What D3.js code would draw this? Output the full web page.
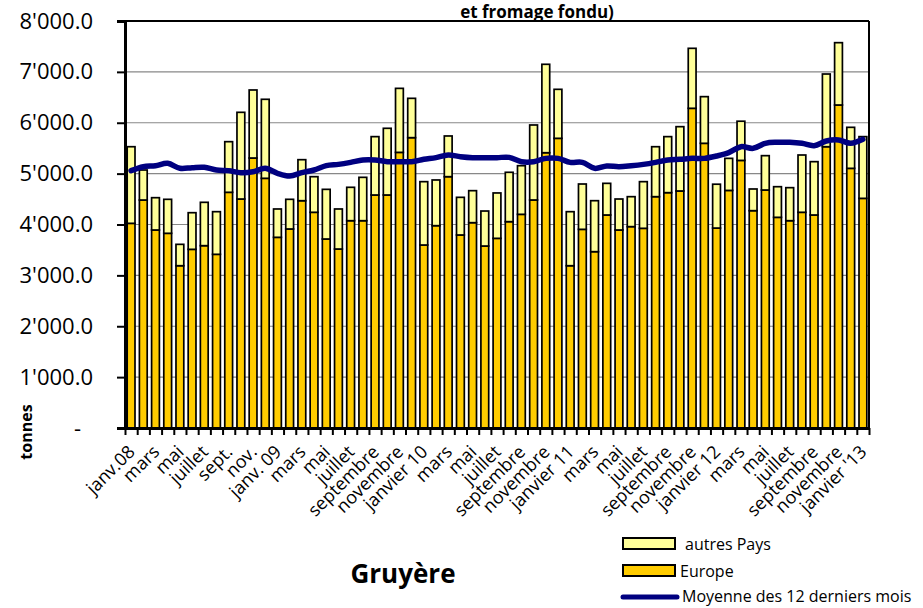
<!DOCTYPE html>
<html>
<head>
<meta charset="utf-8">
<script src="https://cdn.jsdelivr.net/npm/d3@7"></script>
<style>
  body { margin: 0; background: #fff; }
  text { font-family: "Open Sans", "Noto Sans", sans-serif; }
</style>
</head>
<body>
<div id="canvas"></div>
<script>
// mois, janv. 2008 -> janv. 2013
const months = [
  "2008-01","2008-02","2008-03","2008-04","2008-05","2008-06","2008-07","2008-08","2008-09","2008-10","2008-11","2008-12",
  "2009-01","2009-02","2009-03","2009-04","2009-05","2009-06","2009-07","2009-08","2009-09","2009-10","2009-11","2009-12",
  "2010-01","2010-02","2010-03","2010-04","2010-05","2010-06","2010-07","2010-08","2010-09","2010-10","2010-11","2010-12",
  "2011-01","2011-02","2011-03","2011-04","2011-05","2011-06","2011-07","2011-08","2011-09","2011-10","2011-11","2011-12",
  "2012-01","2012-02","2012-03","2012-04","2012-05","2012-06","2012-07","2012-08","2012-09","2012-10","2012-11","2012-12",
  "2013-01"
];

// un libellé tous les deux mois
const tickLabels = [
  "janv.08","mars","mai","juillet","sept.","nov.",
  "janv. 09","mars","mai","juillet","septembre","novembre",
  "janvier 10","mars","mai","juillet","septembre","novembre",
  "janvier 11","mars","mai","juillet","septembre","novembre",
  "janvier 12","mars","mai","juillet","septembre","novembre",
  "janvier '13"
];

const europe = [
  4023,4481,3892,3827,3190,3512,3584,3414,4633,4501,5307,4908,
  3748,3912,4468,4240,3715,3518,4075,4075,4580,4580,5418,5707,
  3597,3977,4940,3794,4036,3577,3728,4056,4200,4482,5411,5694,
  3190,3905,3466,4187,3892,3958,3925,4547,4626,4659,6284,5596,
  3930,4670,5260,4272,4678,4141,4075,4240,4187,5529,6349,5104,
  4514
];

const autresPays = [
  1506,590,635,668,420,720,852,838,995,1704,1337,1553,
  557,583,806,700,976,787,656,852,1147,1311,1258,773,
  1245,898,800,740,629,688,892,970,956,1474,1738,963,
  1062,891,1002,622,609,589,917,982,1101,1264,1179,917,
  862,630,770,426,675,602,649,1126,1048,1429,1225,806,
  1213
];

const moyenne12 = [
  5058,5136,5155,5202,5104,5117,5124,5071,5058,5019,5038,5104,
  5006,4953,5019,5071,5156,5182,5221,5268,5268,5235,5235,5235,
  5281,5314,5366,5333,5314,5314,5314,5320,5235,5235,5300,5300,
  5221,5221,5104,5150,5136,5155,5182,5221,5268,5281,5300,5300,
  5346,5412,5530,5497,5596,5616,5616,5596,5550,5641,5661,5596,
  5674
];

const yTicks = [0,1000,2000,3000,4000,5000,6000,7000,8000];

const width = 923;
const height = 608;
const margin = { top: 21, left: 125, bottom: 180, right: 54 };
const iwidth = width - margin.left - margin.right;
const iheight = height - margin.top - margin.bottom;

const svg = d3.select("#canvas").append("svg")
  .attr("width", width)
  .attr("height", height);

// titre (fin de la deuxième ligne)
svg.append("text")
  .attr("x", 537).attr("y", 18)
  .attr("text-anchor", "middle")
  .style("font-weight", "bold").style("font-size", "17px")
  .text("et fromage fondu)");

const graph = svg.append("g").attr("transform", `translate(${margin.left},${margin.top})`);

const y = d3.scaleLinear().domain([0, 8000]).range([iheight, 0]);
const x = d3.scaleBand().domain(months).range([0, iwidth]).paddingInner(0.36).paddingOuter(0.18);
const xEdge = d3.scaleLinear().domain([0, months.length]).range([0, iwidth]);

const loc = d3.formatLocale({ decimal: ".", thousands: "'", grouping: [3], currency: ["", ""] });
const fmt = loc.format(",.1f");

// grille
graph.append("g")
  .selectAll("line")
  .data(yTicks.filter(d => d > 0 && d < 8000))
  .enter().append("line")
  .attr("x1", 0).attr("x2", iwidth)
  .attr("y1", d => y(d)).attr("y2", d => y(d))
  .style("stroke", "#888").style("stroke-width", 1.2);

// barres empilées
const stackData = months.map((m, i) => ({ id: m, europe: europe[i], autres: autresPays[i] }));
const series = d3.stack().keys(["europe", "autres"])(stackData);
const colors = { europe: "#FFCC00", autres: "#FFFF99" };

graph.selectAll("g.serie")
  .data(series)
  .enter().append("g")
  .attr("class", "serie")
  .style("fill", d => colors[d.key])
  .selectAll("rect")
  .data(d => d)
  .enter().append("rect")
  .attr("x", d => x(d.data.id))
  .attr("y", d => y(d[1]))
  .attr("height", d => y(d[0]) - y(d[1]))
  .attr("width", x.bandwidth())
  .style("stroke", "#000")
  .style("stroke-width", 1.7);

// moyenne mobile
const line = d3.line()
  .x((d, i) => x(months[i]) + x.bandwidth() / 2)
  .y(d => y(d))
  .curve(d3.curveCatmullRom.alpha(0.5));

graph.append("path")
  .datum(moyenne12)
  .attr("d", line)
  .style("fill", "none")
  .style("stroke", "#000080")
  .style("stroke-width", 5.5)
  .style("stroke-linecap", "round");

// cadre haut et droit
graph.append("line").attr("x1", 0).attr("x2", iwidth).attr("y1", y(8000)).attr("y2", y(8000))
  .style("stroke", "#000").style("stroke-width", 2);
graph.append("line").attr("x1", iwidth).attr("x2", iwidth).attr("y1", 0).attr("y2", iheight)
  .style("stroke", "#000").style("stroke-width", 2);

// axe y
const yAxis = graph.append("g")
  .classed("y--axis", true)
  .call(d3.axisLeft(y).tickValues(yTicks).tickSize(8).tickPadding(24)
    .tickFormat(d => d === 0 ? "-" : fmt(d)));
yAxis.select(".domain").style("stroke-width", 3);
yAxis.selectAll(".tick line").style("stroke-width", 2);
yAxis.selectAll("text").style("font-size", "22px").style("fill", "#000");
yAxis.selectAll(".tick").filter(d => d === 0).select("text").attr("x", -44);

// axe x : graduations entre les barres
const xAxis = graph.append("g")
  .classed("x--axis", true)
  .attr("transform", `translate(0, ${iheight})`)
  .call(d3.axisBottom(xEdge).tickValues(d3.range(months.length + 1)).tickSize(7).tickSizeOuter(0).tickFormat(""));
xAxis.select(".domain").style("stroke-width", 3);
xAxis.selectAll(".tick line").style("stroke-width", 2);

graph.append("g")
  .selectAll("text")
  .data(tickLabels)
  .enter().append("text")
  .attr("transform", (d, i) => `translate(${x(months[i * 2]) + x.bandwidth() / 2 + 5}, ${iheight + 25}) rotate(-45)`)
  .attr("text-anchor", "end")
  .style("font-size", "18px")
  .text(d => d);

// titre d'axe
svg.append("text")
  .attr("transform", "translate(32, 432) rotate(-90)")
  .attr("text-anchor", "middle")
  .style("font-weight", "bold").style("font-size", "16px")
  .text("tonnes");

svg.append("text")
  .attr("x", 403).attr("y", 583)
  .attr("text-anchor", "middle")
  .style("font-weight", "bold").style("font-size", "26px")
  .text("Gruyère");

// légende
const legend = svg.append("g").attr("transform", "translate(623, 538)");
const legendItems = [
  { label: "autres Pays", fill: colors.autres, dx: 62 },
  { label: "Europe", fill: colors.europe, dx: 57 }
];
legendItems.forEach((it, i) => {
  legend.append("rect")
    .attr("x", 0).attr("y", i * 27)
    .attr("width", 52).attr("height", 11)
    .style("fill", it.fill).style("stroke", "#000").style("stroke-width", 2);
  legend.append("text")
    .attr("x", it.dx).attr("y", i * 27 + 12)
    .style("font-size", "16px")
    .text(it.label);
});
legend.append("line")
  .attr("x1", 0).attr("x2", 54).attr("y1", 59).attr("y2", 59)
  .style("stroke", "#000080").style("stroke-width", 5).style("stroke-linecap", "round");
legend.append("text")
  .attr("x", 59).attr("y", 64)
  .style("font-size", "16px")
  .text("Moyenne des 12 derniers mois");
</script>
</body>
</html>
